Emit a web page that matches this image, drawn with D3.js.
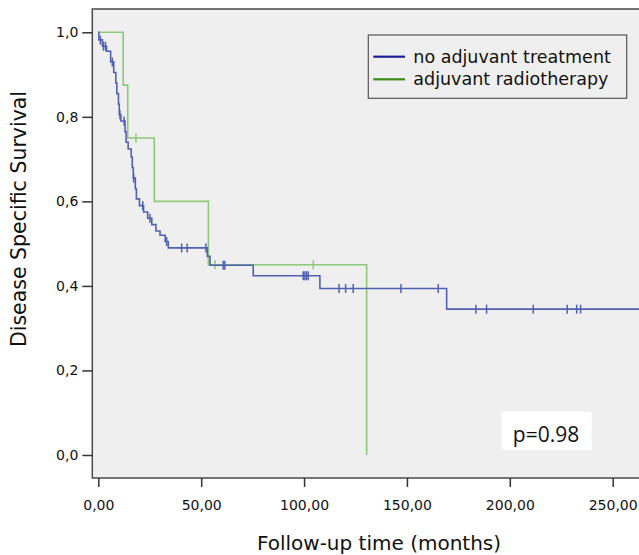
<!DOCTYPE html>
<html>
<head>
<meta charset="utf-8">
<title>Disease Specific Survival</title>
<style>
  body { margin: 0; background: #fff; }
  .tick text { font-family: 'DejaVu Sans', sans-serif; font-size: 14px; fill: #111; }
  .tick line { stroke: #333; stroke-width: 1.5px; }
</style>
</head>
<body>
<script src="https://d3js.org/d3.v7.min.js"></script>
<script>

// Kaplan-Meier steps: time (months) and survival after the drop
var noAdjTimes = [0.3, 2, 4, 6, 7.5, 8.5, 9, 9.8, 10.2, 11, 13, 13.5, 14.5, 16, 16.5, 17, 18, 18.5, 20, 22, 24, 26, 28, 30, 32.5, 34, 53, 54.3, 75.3, 107.7, 169.3];
var noAdjSurv  = [0.982, 0.967, 0.955, 0.93, 0.905, 0.88, 0.855, 0.83, 0.805, 0.79, 0.765, 0.74, 0.724, 0.705, 0.68, 0.655, 0.63, 0.606, 0.59, 0.575, 0.56, 0.545, 0.53, 0.52, 0.505, 0.49, 0.47, 0.449, 0.424, 0.394, 0.345];
var noAdjEnd = 300;
var noAdjCensored = [1, 2.5, 3.5, 6.8, 10.5, 12.5, 17.2, 21.6, 25.1, 33.2, 40.5, 43.2, 52.3, 60.7, 61.5, 99.6, 100.4, 101.2, 102, 117, 120.2, 123.9, 147.1, 165.2, 183.5, 188.7, 211.4, 227.9, 232.5, 234.4];

var radioTimes = [12.1, 14.3, 27.2, 53.5, 130.4];
var radioSurv  = [0.875, 0.75, 0.6, 0.45, 0.0];
var radioEnd = 130.4;
var radioCensored = [18.3, 56.7, 104.5];

var seriesNames = ["no adjuvant treatment", "adjuvant radiotherapy"];
var xTicks = [0, 50, 100, 150, 200, 250];
var yTicks = [0, 0.2, 0.4, 0.6, 0.8, 1.0];
var pText = "p=0.98";

var W = 639, H = 555;
var frame = {left: 92.3, top: 9, bottom: 478};

var x = d3.scaleLinear().domain([0, 250]).range([98.3, 612.7]);
var y = d3.scaleLinear().domain([0, 1]).range([455, 32.3]);

var svg = d3.select("body").append("svg")
    .attr("width", W)
    .attr("height", H);

svg.append("defs").append("clipPath").attr("id", "plotclip")
  .append("rect")
    .attr("x", frame.left).attr("y", frame.top)
    .attr("width", W - frame.left + 5).attr("height", frame.bottom - frame.top);

// plot background and frame
svg.append("rect")
    .attr("x", frame.left).attr("y", frame.top)
    .attr("width", W - frame.left + 5).attr("height", frame.bottom - frame.top)
    .attr("fill", "#efefef")
    .attr("stroke", "#4a4a4a")
    .attr("stroke-width", 1.5);

// axes
var fmtY = function(d) { return d3.format(".1f")(d).replace(".", ","); };
var fmtX = function(d) { return d3.format(".2f")(d).replace(".", ","); };

var yAxis = svg.append("g")
    .attr("transform", "translate(" + frame.left + ",0)")
    .call(d3.axisLeft(y).tickValues(yTicks).tickFormat(fmtY).tickSize(10).tickPadding(4));
yAxis.select(".domain").remove();

var xAxis = svg.append("g")
    .attr("transform", "translate(0," + frame.bottom + ")")
    .call(d3.axisBottom(x).tickValues(xTicks).tickFormat(fmtX).tickSize(9).tickPadding(13));
xAxis.select(".domain").remove();

// axis titles
svg.append("text")
    .attr("transform", "translate(26,219) rotate(-90)")
    .attr("text-anchor", "middle")
    .attr("font-family", "DejaVu Sans, sans-serif")
    .attr("font-size", "20.5px")
    .attr("fill", "#111")
    .text("Disease Specific Survival");

svg.append("text")
    .attr("x", 379).attr("y", 550)
    .attr("text-anchor", "middle")
    .attr("font-family", "DejaVu Sans, sans-serif")
    .attr("font-size", "20px")
    .attr("fill", "#111")
    .text("Follow-up time (months)");

// build step data
function steps(times, surv, end) {
    var pts = [{t: 0, v: 1}];
    times.forEach(function(t, i) { pts.push({t: t, v: surv[i]}); });
    pts.push({t: end, v: surv[surv.length - 1]});
    return pts;
}
function survAt(times, surv, t) {
    var i = d3.bisectRight(times, t);
    return i === 0 ? 1 : surv[i - 1];
}

var stepLine = d3.line()
    .x(function(d) { return x(d.t); })
    .y(function(d) { return y(d.v); })
    .curve(d3.curveStepAfter);

var plot = svg.append("g").attr("clip-path", "url(#plotclip)");

var groups = [
    {times: radioTimes, surv: radioSurv, end: radioEnd, cens: radioCensored, color: "#8cc97a"},
    {times: noAdjTimes, surv: noAdjSurv, end: noAdjEnd, cens: noAdjCensored, color: "#5260b4"}
];

groups.forEach(function(g) {
    plot.append("path")
        .datum(steps(g.times, g.surv, g.end))
        .attr("d", stepLine)
        .attr("fill", "none")
        .attr("stroke", g.color)
        .attr("stroke-width", 1.6);

    plot.selectAll(null)
        .data(g.cens)
        .enter().append("line")
        .attr("x1", function(d) { return x(d); })
        .attr("x2", function(d) { return x(d); })
        .attr("y1", function(d) { return y(survAt(g.times, g.surv, d)) - 4.5; })
        .attr("y2", function(d) { return y(survAt(g.times, g.surv, d)) + 4.5; })
        .attr("stroke", g.color)
        .attr("stroke-width", 1.5);
});

// legend
var legend = svg.append("g");
legend.append("rect")
    .attr("x", 368.3).attr("y", 35)
    .attr("width", 258.4).attr("height", 63.3)
    .attr("fill", "#efefef")
    .attr("stroke", "#555")
    .attr("stroke-width", 1.2);

var legendColors = ["#1e1e96", "#3a8a1c"];
seriesNames.forEach(function(name, i) {
    var ly = 56.7 + i * 22.6;
    legend.append("line")
        .attr("x1", 373.3).attr("x2", 405)
        .attr("y1", ly).attr("y2", ly)
        .attr("stroke", legendColors[i])
        .attr("stroke-width", 2.2);
    legend.append("text")
        .attr("x", 413.3).attr("y", ly + 6)
        .attr("font-family", "DejaVu Sans, sans-serif")
        .attr("font-size", "17.5px")
        .attr("fill", "#111")
        .text(name);
});

// p-value box
svg.append("rect")
    .attr("x", 501.7).attr("y", 411.7)
    .attr("width", 90).attr("height", 38.3)
    .attr("fill", "#fff");
svg.append("text")
    .attr("x", 546).attr("y", 441.5)
    .attr("text-anchor", "middle")
    .attr("font-family", "Open Sans, sans-serif")
    .attr("font-size", "21px")
    .attr("fill", "#111")
    .text(pText);

</script>
</body>
</html>
